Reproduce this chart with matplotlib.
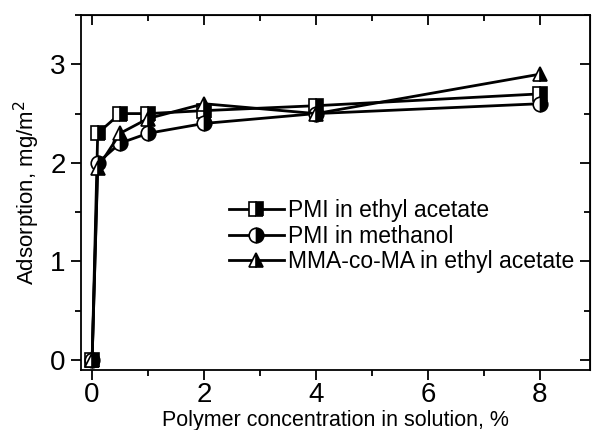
import matplotlib.pyplot as plt
from matplotlib.ticker import MultipleLocator

plt.rcParams['font.family'] = ['Liberation Sans', 'DejaVu Sans']

# data
conc = [0, 0.1, 0.5, 1, 2, 4, 8]
pmi_ethyl = [0, 2.3, 2.5, 2.5, 2.53, 2.58, 2.7]
pmi_methanol = [0, 2.0, 2.2, 2.3, 2.4, 2.5, 2.6]
mma_ethyl = [0, 1.95, 2.3, 2.45, 2.6, 2.5, 2.9]
labels = ['PMI in ethyl acetate', 'PMI in methanol', 'MMA-co-MA in ethyl acetate']

fig = plt.figure(figsize=(5.95, 4.3), dpi=100)
ax = fig.add_axes([0.136, 0.14, 0.856, 0.825])

style = dict(color='black', lw=2.0, markersize=10.5, fillstyle='right',
             markerfacecolor='black', markerfacecoloralt='white',
             markeredgecolor='black', markeredgewidth=1.2)
ax.plot(conc, pmi_ethyl, marker='s', label=labels[0], **style)
ax.plot(conc, pmi_methanol, marker='o', label=labels[1], **style)
ax.plot(conc, mma_ethyl, marker='^', label=labels[2], **style)

ax.set_xlim(-0.2, 8.9)
ax.set_ylim(-0.1, 3.5)
ax.xaxis.set_major_locator(MultipleLocator(2))
ax.xaxis.set_minor_locator(MultipleLocator(1))
ax.yaxis.set_major_locator(MultipleLocator(1))
ax.yaxis.set_minor_locator(MultipleLocator(0.5))
ax.tick_params(which='both', direction='out', labelsize=20, width=1.3)
ax.tick_params(axis='x', pad=2)
ax.tick_params(axis='y', pad=4)
ax.tick_params(which='major', length=7)
ax.tick_params(which='minor', length=4)
for s in ax.spines.values():
    s.set_linewidth(1.3)

# inward ticks on top and right
top = ax.secondary_xaxis('top')
top.xaxis.set_major_locator(MultipleLocator(2))
top.xaxis.set_minor_locator(MultipleLocator(1))
top.tick_params(which='both', direction='in', labeltop=False, width=1.3)
top.tick_params(which='major', length=7)
top.tick_params(which='minor', length=4)
right = ax.secondary_yaxis('right')
right.yaxis.set_major_locator(MultipleLocator(1))
right.yaxis.set_minor_locator(MultipleLocator(0.5))
right.tick_params(which='both', direction='in', labelright=False, width=1.3)
right.tick_params(which='major', length=7)
right.tick_params(which='minor', length=4)

ax.set_xlabel('Polymer concentration in solution, %', fontsize=15.5, labelpad=1)
ax.set_ylabel('Adsorption, mg/m$^2$', fontsize=16, labelpad=6)

ax.legend(loc='center left', bbox_to_anchor=(0.29, 0.377), frameon=False,
          fontsize=16.5, handlelength=2.4, handletextpad=0.2, labelspacing=0.1,
          borderpad=0, borderaxespad=0)

fig.savefig('out.png', dpi=100)
